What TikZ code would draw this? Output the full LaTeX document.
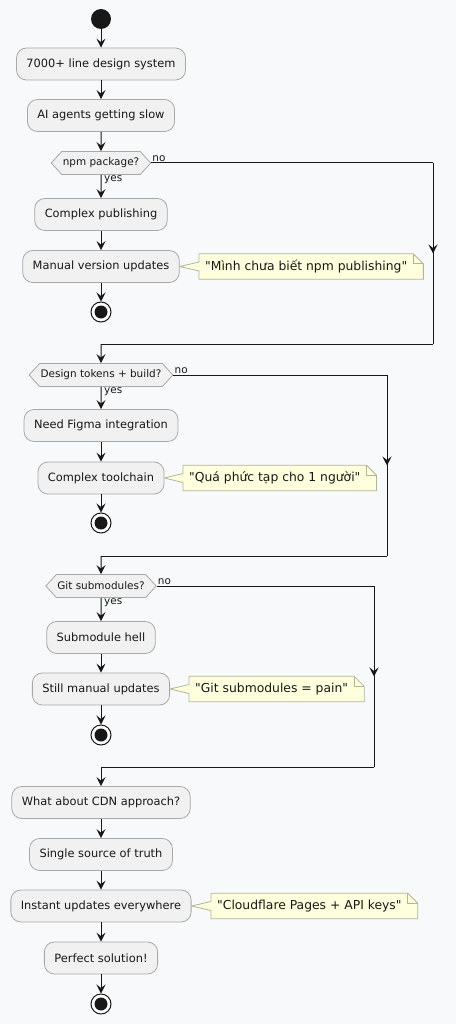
\documentclass[tikz,border=0pt]{standalone}
\usepackage{fontspec}
\setmainfont{DejaVu Sans}[Ligatures=TeXOff]
\usetikzlibrary{arrows.meta,calc,shapes.symbols,backgrounds,decorations.markings}
\definecolor{BgClr}{HTML}{F8F9FA}
\definecolor{BoxClr}{HTML}{F1F1F1}
\definecolor{BorderClr}{HTML}{A8A8A8}
\definecolor{LineClr}{HTML}{181818}
\definecolor{NoteClr}{HTML}{FEFFDD}
\definecolor{NoteBorderClr}{HTML}{B4B49A}

% note outline with folded corner and pointer to its activity
\newcommand{\notebody}[2]{%
  \begin{scope}[on background layer]
  \filldraw[draw=NoteBorderClr,fill=NoteClr,line width=0.8pt,line join=miter]
    (#1.north west) -- (#1.north east) -- ($(#1.north east)+(10,10)$)
    -- ($(#1.south east)+(10,0)$) -- (#1.south west) -- ($(#1.west)+(0,4.5)$)
    -- (#2.east) -- ($(#1.west)+(0,-4.5)$) -- cycle;
  \draw[draw=NoteBorderClr,line width=0.8pt]
    (#1.north east) -- ($(#1.north east)+(0,10)$) -- ($(#1.north east)+(10,10)$);
  \end{scope}}

\begin{document}
\begin{tikzpicture}[x=1pt,y=-1pt,
  act/.style={rectangle,rounded corners=10pt,draw=BorderClr,fill=BoxClr,line width=0.8pt,
    minimum height=32pt,inner xsep=10pt,text=LineClr,font=\fontsize{11.4}{13}\selectfont},
  cond/.style={signal,signal to=west and east,signal pointer angle=95,draw=BorderClr,
    fill=BoxClr,line width=0.8pt,minimum height=23pt,inner xsep=1pt,inner ysep=0pt,
    text=LineClr,font=\fontsize{10.45}{12}\selectfont},
  note/.style={anchor=west,minimum height=25pt,inner xsep=6pt,inner ysep=0pt,
    text=LineClr,font=\fontsize{12.35}{14}\selectfont},
  lbl/.style={inner sep=1pt,text=LineClr,font=\fontsize{10.45}{12}\selectfont},
  startnode/.style={circle,fill=LineClr,minimum size=20pt,inner sep=0pt},
  stopnode/.style={circle,draw=LineClr,fill=white,line width=1pt,minimum size=20pt,inner sep=0pt,
    path picture={\fill[LineClr] (path picture bounding box.center) circle (6.5pt);}},
  flow/.style={draw=LineClr,line width=1pt,-{Stealth[length=9pt,width=9pt,inset=3.5pt]}},
  line/.style={draw=LineClr,line width=1pt},
  midarrow/.style={line,postaction={decorate},decoration={markings,
    mark=at position 0.5 with {\arrow{Stealth[length=9pt,width=9pt,inset=3.5pt]}}}}]

\begin{scope}[on background layer]
\fill[BgClr] (0,0) rectangle (456,1024);
\end{scope}

% first part
\node[startnode] (start) at (101,19) {};
\node[act] (a1) at (101,64) {7000+ line design system};
\node[act] (a2) at (101,115.5) {AI agents getting slow};
\node[cond] (d1) at (101,163) {npm package?};
\node[act] (a3) at (101,214.5) {Complex publishing};
\node[act] (a4) at (101,266.5) {Manual version updates};
\node[note] (n1) at (199,266.5) {"Mình chưa biết npm publishing"};
\notebody{n1}{a4}
\node[stopnode] (e1) at (101,312) {};

\draw[flow] (start) -- (a1);
\draw[flow] (a1) -- (a2);
\draw[flow] (a2) -- (d1);
\draw[flow] (d1) -- (a3);
\draw[flow] (a3) -- (a4);
\draw[flow] (a4) -- (e1);
\node[lbl,anchor=south west] at (d1.east) {no};
\node[lbl,anchor=north west] at ($(d1.south)+(2,0)$) {yes};

\coordinate (k1) at (433,163);
\coordinate (k2) at (433,344);
\coordinate (j1) at (101,344);

% second part
\node[cond] (d2) at (101,375) {Design tokens + build?};
\node[act] (b1) at (101,425.5) {Need Figma integration};
\node[act] (b2) at (101,478) {Complex toolchain};
\node[note] (n2) at (183,478) {"Quá phức tạp cho 1 người"};
\notebody{n2}{b2}
\node[stopnode] (e2) at (101,523) {};

\draw[line] (d1.east) -- (k1);
\draw[midarrow] (k1) -- (k2);
\draw[line] (k2) -- (j1);
\draw[flow] (j1) -- (d2);
\draw[flow] (d2) -- (b1);
\draw[flow] (b1) -- (b2);
\draw[flow] (b2) -- (e2);
\node[lbl,anchor=south west] at (d2.east) {no};
\node[lbl,anchor=north west] at ($(d2.south)+(2,0)$) {yes};

\coordinate (k3) at (387,375);
\coordinate (k4) at (387,556);
\coordinate (j2) at (101,556);

% third part
\node[cond] (d3) at (101,586) {Git submodules?};
\node[act] (c1) at (101,637.5) {Submodule hell};
\node[act] (c2) at (101,689) {Still manual updates};
\node[note] (n3) at (189,689) {"Git submodules = pain"};
\notebody{n3}{c2}
\node[stopnode] (e3) at (101,735) {};

\draw[line] (d2.east) -- (k3);
\draw[midarrow] (k3) -- (k4);
\draw[line] (k4) -- (j2);
\draw[flow] (j2) -- (d3);
\draw[flow] (d3) -- (c1);
\draw[flow] (c1) -- (c2);
\draw[flow] (c2) -- (e3);
\node[lbl,anchor=south west] at (d3.east) {no};
\node[lbl,anchor=north west] at ($(d3.south)+(2,0)$) {yes};

\coordinate (k5) at (374,586);
\coordinate (k6) at (374,767);
\coordinate (j3) at (101,767);

% CDN part
\node[act] (f1) at (101,802.5) {What about CDN approach?};
\node[act] (f2) at (101,854.5) {Single source of truth};
\node[act] (f3) at (101,906) {Instant updates everywhere};
\node[note] (n4) at (211,906) {"Cloudflare Pages + API keys"};
\notebody{n4}{f3}
\node[act] (f4) at (101,958) {Perfect solution!};
\node[stopnode] (e4) at (101,1004) {};

\draw[line] (d3.east) -- (k5);
\draw[midarrow] (k5) -- (k6);
\draw[line] (k6) -- (j3);
\draw[flow] (j3) -- (f1);
\draw[flow] (f1) -- (f2);
\draw[flow] (f2) -- (f3);
\draw[flow] (f3) -- (f4);
\draw[flow] (f4) -- (e4);

\end{tikzpicture}
\end{document}
